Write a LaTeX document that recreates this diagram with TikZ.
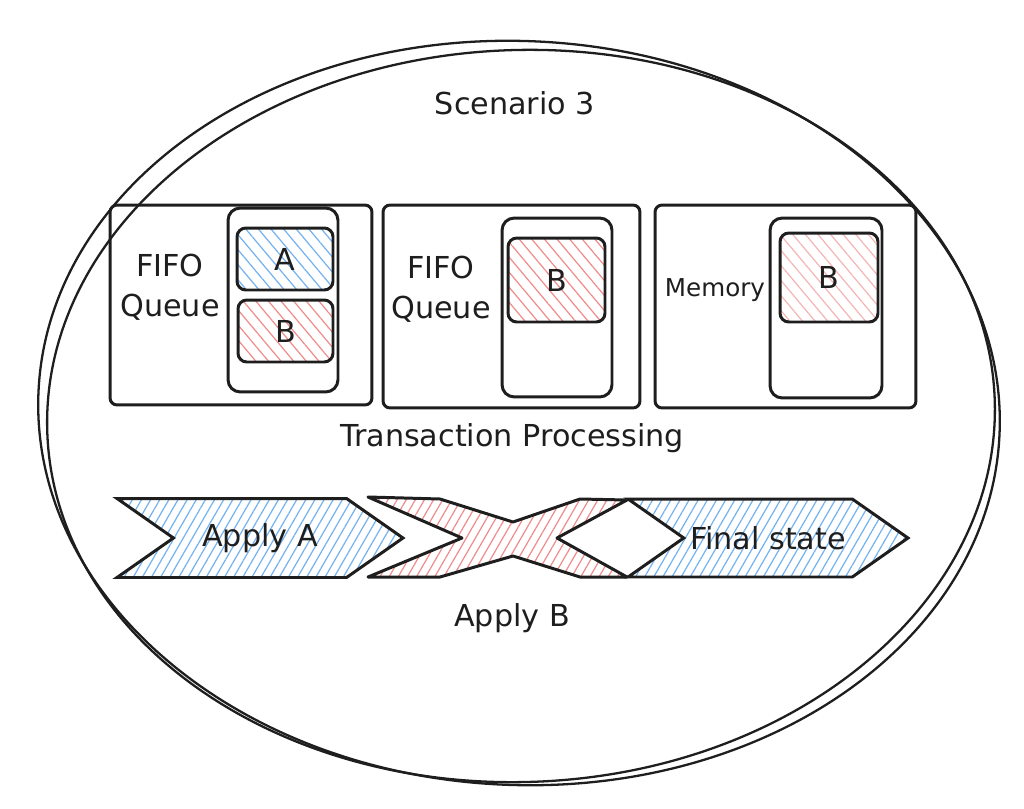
\documentclass[tikz,border=0pt]{standalone}
\usepackage{fontspec}
\setmainfont{DejaVu Sans}
\usetikzlibrary{
    shapes.symbols,
    patterns.meta
}
\definecolor{ink}{HTML}{1E1E1E}
\definecolor{hatchblue}{HTML}{74B2F0}
\definecolor{hatchred}{HTML}{F08C8C}
\definecolor{hatchpink}{HTML}{F5B5B5}
\newcommand\sketchfont{\fontsize{17.2}{22.7}\selectfont}
\newcommand\smallsketchfont{\fontsize{14}{16}\selectfont}
\tikzset{
    % Outer stage panel
    panel/.style={
        rectangle,
        rounded corners=4pt,
        draw=ink,
        line width=1.7pt,
        inner sep=0pt
    },
    % Queue / memory slot container
    slot/.style={
        rectangle,
        rounded corners=7pt,
        draw=ink,
        line width=1.7pt,
        inner sep=0pt
    },
    % Transaction cell with hatched fill
    txn/.style={
        rectangle,
        rounded corners=5pt,
        draw=ink,
        line width=1.7pt,
        inner sep=0pt,
        font=\sketchfont,
        text=ink,
        pattern={Lines[angle=-50, distance=5.5pt, line width=0.7pt]},
        pattern color=#1
    },
    % Step chevron
    stepshape/.style={
        signal,
        signal from=west,
        signal to=east,
        signal pointer angle=70,
        draw=ink,
        line width=1.7pt,
        inner sep=0pt,
        font=\sketchfont,
        text=ink,
        pattern={Lines[angle=60, distance=4.5pt, line width=0.7pt]},
        pattern color=#1
    },
    % Big boundary line
    outline/.style={
        draw=ink,
        line width=1.3pt
    },
    % Label style
    label text/.style={
        font=\sketchfont,
        text=ink,
        align=center
    }
}

\begin{document}
\begin{tikzpicture}[x=0.02cm, y=-0.02cm]
    \useasboundingbox (0,0) rectangle (1024,808);

    % Scenario boundary, drawn twice for the sketched look
    \draw[outline, rotate around={-2.5:(519,413)}] (519,413) ellipse [x radius=481, y radius=372];
    \draw[outline, rotate around={2:(521,416)}] (521,416) ellipse [x radius=474, y radius=366];
    \node[label text] (title) at (515,103) {Scenario 3};

    % Stage 1: queue holding A and B
    \node[panel, minimum width=5.24cm, minimum height=4cm] (stage1) at (241,305) {};
    \node[slot, minimum width=2.2cm, minimum height=3.68cm] (queue1) at (283,300) {};
    \node[txn=hatchblue, minimum width=1.92cm, minimum height=1.24cm] (a1) at (285,259) {A};
    \node[txn=hatchred, minimum width=1.9cm, minimum height=1.24cm] (b1) at (285.5,331) {B};
    \node[label text] (fifo1) at (170,287) {FIFO\\Queue};

    % Stage 2: only B left in the queue
    \node[panel, minimum width=5.14cm, minimum height=4.06cm] (stage2) at (511.5,306.5) {};
    \node[slot, minimum width=2.2cm, minimum height=3.58cm] (queue2) at (557,307.5) {};
    \node[txn=hatchred, minimum width=1.94cm, minimum height=1.68cm] (b2) at (556.5,280) {B};
    \node[label text] (fifo2) at (441,289) {FIFO\\Queue};

    % Stage 3: B kept in memory
    \node[panel, minimum width=5.22cm, minimum height=4.06cm] (stage3) at (785.5,306.5) {};
    \node[slot, minimum width=2.24cm, minimum height=3.6cm] (queue3) at (826,308) {};
    \node[txn=hatchpink, minimum width=1.96cm, minimum height=1.78cm] (b3) at (829,277.5) {B};
    \node[label text, font=\smallsketchfont] (memory) at (715,290) {Memory};

    \node[label text] (processing) at (512,438) {Transaction Processing};

    % Apply steps
    \node[stepshape=hatchblue, minimum width=5.72cm, minimum height=1.58cm] (applya) at (260,538) {Apply A};
    \draw[draw=ink, line width=1.7pt, line join=round, pattern={Lines[angle=60, distance=4.5pt, line width=0.7pt]}, pattern color=hatchred]
        (368,497) -- (440,499) -- (513,522) -- (580,499) -- (627,500) -- (557,538)
        -- (627,577) -- (580,577) -- (513,556) -- (440,577) -- (368,577) -- (462,538) -- cycle;
    \node[stepshape=hatchblue, minimum width=5.6cm, minimum height=1.56cm] (final) at (768,538) {Final state};
    \node[label text] (applyb) at (512,618) {Apply B};

\end{tikzpicture}
\end{document}
